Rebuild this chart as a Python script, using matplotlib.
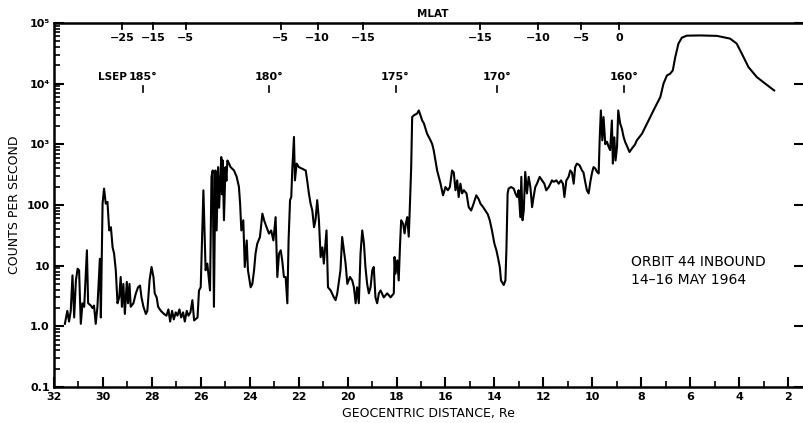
import numpy as np
import matplotlib.pyplot as plt
from matplotlib.ticker import LogLocator, NullFormatter

# geocentric distance (Re) and counting rate
distance = [31.55, 31.45, 31.38, 31.31, 31.24, 31.17, 31.10, 31.03, 30.97, 30.90,
            30.83, 30.76, 30.65, 30.60, 30.49, 30.42, 30.36, 30.29, 30.22, 30.12,
            30.08, 30.01, 29.95, 29.88, 29.81, 29.74, 29.67, 29.60, 29.54, 29.47,
            29.40, 29.33, 29.27, 29.22, 29.16, 29.10, 29.02, 28.97, 28.91, 28.86,
            28.75, 28.65, 28.56, 28.48, 28.42, 28.34, 28.24, 28.18, 28.09, 28.01,
            27.93, 27.88, 27.80, 27.74, 27.63, 27.50, 27.40, 27.32, 27.25, 27.17,
            27.10, 27.02, 26.95, 26.87, 26.80, 26.72, 26.65, 26.57, 26.50, 26.42,
            26.34, 26.27, 26.13, 26.07, 26.00, 25.89, 25.80, 25.73, 25.62, 25.56,
            25.51, 25.46, 25.40, 25.35, 25.29, 25.25, 25.21, 25.16, 25.13, 25.10,
            25.05, 24.99, 24.95, 24.91, 24.84, 24.78, 24.64, 24.53, 24.44, 24.39,
            24.34, 24.26, 24.20, 24.12, 24.07, 23.96, 23.89, 23.82, 23.76, 23.69,
            23.58, 23.48, 23.41, 23.31, 23.21, 23.12, 23.03, 22.94, 22.87, 22.80,
            22.73, 22.67, 22.60, 22.53, 22.46, 22.41, 22.35, 22.30, 22.26, 22.19,
            22.15, 22.08, 21.99, 21.85, 21.71, 21.65, 21.58, 21.51, 21.44, 21.37,
            21.31, 21.24, 21.17, 21.10, 21.03, 20.97, 20.86, 20.80, 20.69, 20.56,
            20.49, 20.42, 20.29, 20.22, 20.15, 20.08, 20.01, 19.90, 19.81, 19.74,
            19.67, 19.61, 19.54, 19.47, 19.40, 19.33, 19.27, 19.20, 19.13, 19.06,
            18.99, 18.93, 18.86, 18.79, 18.72, 18.65, 18.52, 18.38, 18.24, 18.11,
            18.08, 18.04, 17.97, 17.91, 17.86, 17.81, 17.73, 17.67, 17.62, 17.56,
            17.50, 17.46, 17.40, 17.36, 17.29, 17.16, 17.09, 17.02, 16.95, 16.88,
            16.75, 16.61, 16.54, 16.48, 16.34, 16.20, 16.10, 16.00, 15.90, 15.82,
            15.73, 15.66, 15.59, 15.52, 15.46, 15.39, 15.32, 15.25, 15.14, 15.05,
            14.95, 14.85, 14.74, 14.64, 14.57, 14.46, 14.37, 14.27, 14.19, 14.10,
            14.00, 13.92, 13.86, 13.78, 13.73, 13.62, 13.55, 13.51, 13.46, 13.42,
            13.32, 13.21, 13.14, 13.07, 13.01, 12.94, 12.90, 12.85, 12.80, 12.74,
            12.67, 12.60, 12.53, 12.46, 12.40, 12.33, 12.26, 12.15, 12.05, 11.96,
            11.88, 11.78, 11.71, 11.65, 11.58, 11.47, 11.37, 11.28, 11.20, 11.14,
            11.06, 10.97, 10.90, 10.83, 10.76, 10.70, 10.63, 10.52, 10.42, 10.36,
            10.29, 10.22, 10.15, 10.08, 10.01, 9.95, 9.88, 9.81, 9.74, 9.70,
            9.65, 9.59, 9.54, 9.47, 9.40, 9.33, 9.27, 9.20, 9.16, 9.10,
            9.05, 8.99, 8.94, 8.86, 8.79, 8.72, 8.65, 8.59, 8.48, 8.38,
            8.25, 8.18, 7.97, 7.70, 7.43, 7.22, 7.09, 6.95, 6.82, 6.71,
            6.61, 6.48, 6.34, 6.14, 5.59, 4.91, 4.37, 4.10, 3.89, 3.62,
            3.28, 2.94, 2.57]
counts = [1.1, 1.8, 1.2, 1.8, 6.9, 1.4, 5.7, 8.9, 8.4, 1.1,
          2.4, 2.1, 17.9, 2.4, 2.2, 2.0, 2.2, 1.1, 2.1, 13,
          1.4, 105, 186, 105, 112, 38, 43, 20, 15.8, 8.4,
          2.4, 3.0, 6.5, 2.1, 5.0, 1.6, 5.4, 2.4, 5.0, 2.1,
          2.4, 3.5, 4.4, 4.7, 3.0, 2.1, 1.6, 1.8, 5.7, 9.5,
          6.5, 3.5, 3.0, 2.1, 1.8, 1.6, 1.5, 1.9, 1.2, 1.8,
          1.3, 1.7, 1.5, 1.9, 1.4, 1.7, 1.2, 1.8, 1.5, 1.7,
          2.7, 1.25, 1.4, 3.9, 4.4, 174, 8.4, 10.8, 3.9, 290,
          370, 2.1, 370, 38, 420, 90, 200, 615, 150, 540,
          56, 420, 250, 540, 480, 420, 370, 290, 200, 105,
          38, 56, 9.5, 26, 8.4, 4.4, 5.0, 8.4, 15.8, 23,
          29.6, 72, 56, 43, 33.7, 38, 26, 63, 6.5, 15.8,
          17.9, 12.2, 6.5, 6.5, 2.4, 26, 120, 135, 370, 1320,
          254, 480, 420, 395, 370, 254, 154, 105, 81, 43,
          56, 120, 56, 13.8, 20, 10.8, 38, 4.4, 3.9, 3.0,
          2.7, 3.5, 8.4, 29.6, 17.9, 10.8, 5.0, 6.5, 5.7, 4.4,
          2.4, 4.4, 2.4, 15.8, 38, 23, 9.5, 5.0, 3.5, 4.4,
          8.4, 9.5, 3.0, 2.4, 3.5, 3.9, 3.0, 3.5, 3.0, 3.5,
          13.9, 7.4, 12.2, 5.7, 20, 56, 49, 34, 49, 63,
          30, 81, 420, 2800, 3000, 3200, 3600, 3000, 2460, 2200,
          1490, 1160, 1000, 795, 370, 224, 144, 197, 175, 197,
          370, 342, 175, 254, 135, 224, 155, 175, 155, 92,
          81, 105, 144, 124, 105, 92, 81, 70, 56, 38,
          23, 18, 13.9, 9.5, 5.7, 4.8, 5.7, 18, 154, 186,
          197, 186, 154, 135, 175, 63, 290, 56, 81, 350,
          155, 290, 197, 92, 135, 197, 224, 290, 254, 224,
          174, 197, 224, 254, 240, 254, 224, 254, 224, 135,
          254, 290, 370, 342, 224, 420, 480, 450, 370, 342,
          240, 174, 155, 240, 342, 420, 400, 352, 330, 1160,
          3600, 1160, 2800, 1000, 1100, 900, 800, 2460, 480, 1300,
          540, 900, 3600, 2180, 1800, 1310, 1070, 951, 745, 850,
          1000, 1160, 1490, 2470, 4100, 6000, 10000, 13600, 14500, 16500,
          27300, 45500, 57000, 61500, 62000, 61000, 55000, 45500, 31000, 18700,
          12800, 10000, 7700]

mlat_pos = [29.22, 27.96, 26.61, 22.73, 21.22, 19.35, 14.57, 12.20, 10.45, 8.90]
mlat_labels = ['\u221225', '\u221215', '\u22125', '\u22125', '\u221210', '\u221215',
               '\u221215', '\u221210', '\u22125', '0']
lsep_pos = [28.37, 23.22, 18.04, 13.88, 8.69]
lsep_labels = ['185\u00b0', '180\u00b0', '175\u00b0', '170\u00b0', '160\u00b0']

y_ticks = [0.1, 1, 10, 100, 1e3, 1e4, 1e5]
y_labels = ['0.1', '1.0', '10', '100', '10\u00b3', '10\u2074', '10\u2075']

plt.rcParams['font.family'] = 'DejaVu Sans'

fig = plt.figure(figsize=(8.04, 4.23), dpi=100)
ax = fig.add_axes([0.067, 0.085, 0.933, 0.861])

ax.plot(distance, counts, color='black', lw=1.5)

ax.set_yscale('log')
ax.set_ylim(0.1, 1e5)
ax.set_xlim(32, 1.35)

ax.set_yticks(y_ticks)
ax.set_yticklabels(y_labels, fontsize=8, fontweight='bold')
ax.yaxis.set_minor_locator(LogLocator(base=10, subs=np.arange(2, 10), numticks=20))
ax.yaxis.set_minor_formatter(NullFormatter())

ax.set_xticks(np.arange(32, 1, -2))
ax.set_xticklabels([str(v) for v in range(32, 1, -2)], fontsize=8, fontweight='bold')
ax.set_xticks(np.arange(31, 1, -2), minor=True)

ax.tick_params(which='major', direction='in', length=7, width=1.5, left=True, right=True, top=False)
ax.tick_params(which='minor', direction='in', length=4, width=1.2, top=False)
ax.tick_params(axis='y', which='minor', right=False)
ax.tick_params(axis='y', which='major', labelright=False, pad=3)

for side in ['left', 'bottom', 'top']:
    ax.spines[side].set_linewidth(1.8)
ax.spines['right'].set_visible(False)

trans = ax.get_xaxis_transform()
# MLAT scale along the top edge
for x, lab in zip(mlat_pos, mlat_labels):
    ax.plot([x, x], [1.0, 0.982], color='black', lw=1.3, transform=trans, clip_on=False)
    ax.text(x, 0.958, lab, transform=trans, ha='center', va='center', fontsize=8, fontweight='bold')
ax.text(0.505, 1.025, 'MLAT', transform=ax.transAxes, ha='center', va='center',
        fontsize=7.5, fontweight='bold')

# LSEP markers
for x, lab in zip(lsep_pos, lsep_labels):
    ax.plot([x, x], [0.81, 0.826], color='black', lw=1.2, transform=trans)
    ax.text(x, 0.85, lab, transform=trans, ha='center', va='center', fontsize=8, fontweight='bold')
ax.text(29.59, 0.85, 'LSEP', transform=trans, ha='center', va='center', fontsize=7.5, fontweight='bold')

ax.text(8.41, 0.319, 'ORBIT 44 INBOUND\n14\u201316 MAY 1964', transform=trans,
        ha='left', va='center', fontsize=10, linespacing=1.4)

ax.set_xlabel('GEOCENTRIC DISTANCE, Re', fontsize=9, labelpad=4)
ax.set_ylabel('COUNTS PER SECOND', fontsize=9, labelpad=4)

fig.savefig('out.png', dpi=100)
